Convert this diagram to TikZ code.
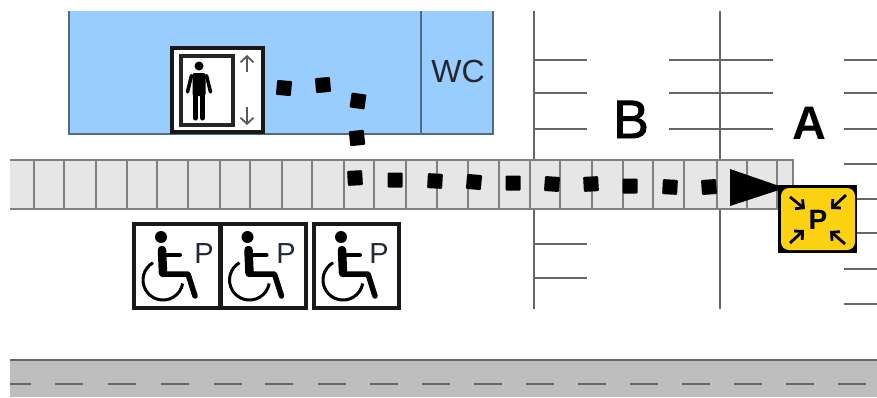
\documentclass[tikz,border=0pt]{standalone}
\usepackage{fontspec}
\setmainfont{Liberation Sans}
\newfontfamily\heavyfont[FakeBold=1.6]{Liberation Sans}
\usetikzlibrary{arrows.meta}
\definecolor{roomblue}{HTML}{99CCFF}
\definecolor{roomedge}{HTML}{4F6B85}
\definecolor{walk}{HTML}{E6E6E6}
\definecolor{walkedge}{HTML}{808080}
\definecolor{lineg}{HTML}{666666}
\definecolor{road}{HTML}{BEBEBE}
\definecolor{signy}{HTML}{FBD112}
\definecolor{signp}{HTML}{1F2A3A}
\tikzset{
  roomline/.style={draw=roomedge,line width=2pt},
  walkline/.style={draw=walkedge,line width=2pt},
  bayline/.style={draw=lineg,line width=2pt},
  frameline/.style={draw=black!90,fill=white,line width=4pt},
  footprint/.style={fill=black,draw=none,inner sep=0pt,minimum size=15pt,rounded corners=1pt},
  word/.style={inner sep=0pt,anchor=base,align=center},
  liftarrow/.style={draw=black!65,line width=1.8pt,-{Straight Barb[length=6pt,width=13pt,line width=1.8pt]}},
  signarrow/.style={draw=black,line width=2.8pt,-{Straight Barb[length=6pt,width=12pt,line width=2.8pt]}},
}
\newcommand{\wheelicon}[3]{%
  \begin{scope}[shift={(#1,224)}]
    \draw[frameline] (0,0) rectangle (#2,84);
    \fill (27,13) circle[radius=6pt];
    \draw[line width=8.5pt,line cap=round] (28,26) -- (29,49);
    \draw[line width=4pt,line cap=round] (30,31) -- (46,31);
    \draw[line width=5.5pt,line cap=round,line join=round] (30,50) -- (54,50) -- (61,72);
    \draw[line width=3pt] (19,38.7) arc[start angle=120,end angle=350,radius=20pt];
    \node[word] at (#3,39) {\fontsize{29}{29}\selectfont\color{signp}P};
  \end{scope}}
\begin{document}
\begin{tikzpicture}[x=1pt,y=-1pt]
\useasboundingbox (0,0) rectangle (877,397);
% road
\fill[road] (10,360) rectangle (877,397);
\draw[lineg,line width=2.4pt] (10,360) -- (877,360);
\draw[lineg,line width=2pt] (10,384) -- (31,384);
\foreach \x in {55,108,161,214,265,318,370,422,474,526,578,630,682,734,786,838}
  \draw[lineg,line width=2pt] (\x,384) -- ({\x+28},384);
% room
\fill[roomblue] (69,11) rectangle (493,134);
\draw[roomline] (69,11) -- (69,134) -- (493,134) -- (493,11);
\draw[roomline] (421,11) -- (421,134);
\node[word] (wc) at (458,82) {\fontsize{32}{32}\selectfont\color{black!85}WC};
% parking bays
\foreach \x in {534,720} {
  \draw[bayline] (\x,11) -- (\x,159);
  \draw[bayline] (\x,208) -- (\x,309);
}
\foreach \y in {60,93,129} {
  \draw[bayline] (534,\y) -- (587,\y);
  \draw[bayline] (669,\y) -- (773,\y);
}
\foreach \y in {244,278} \draw[bayline] (534,\y) -- (587,\y);
\foreach \y in {60,93,129,164,199,233,269,304} \draw[bayline] (844,\y) -- (877,\y);
% walkway
\fill[walk] (10,159.5) rectangle (793,208.5);
\draw[walkline] (10,159.5) -- (793,159.5) -- (793,208.5) -- (10,208.5);
\foreach \x in {34,64,96,127,157,188,220,250,282,312,344,374,406,437,468,499,530,560,592,623,653,684,717,747,777}
  \draw[walkline] (\x,159.5) -- (\x,208.5);
% labels
\node[word] (lb) at (631,138) {\fontsize{54}{54}\heavyfont B};
\node[word] (la) at (809,139) {\fontsize{47}{47}\selectfont\bfseries A};
% elevator
\draw[frameline] (172,47.5) rectangle (263,132);
\draw[draw=black!85,line width=3.5pt] (181,56) rectangle (233,125);
\fill (199,66) circle[radius=4.5pt];
\fill[rounded corners=2pt] (192.5,73) rectangle (205.5,96);
\draw[line width=3.5pt,line cap=round] (191.5,75.5) -- (187.5,92);
\draw[line width=3.5pt,line cap=round] (206.5,75.5) -- (210.5,92);
\draw[line width=5pt,line cap=round] (195.3,94) -- (195.3,118);
\draw[line width=5pt,line cap=round] (202.7,94) -- (202.7,118);
\draw[liftarrow] (247,72) -- (247,55);
\draw[liftarrow] (247,107) -- (247,125);
% wheelchair signs
\wheelicon{134}{86}{70}
\wheelicon{220.5}{85}{65.5}
\wheelicon{314}{85}{65}
% route
\foreach \n/\x/\y/\r in {a/284/88/-5,b/323/85/5,c/358/101/-8,d/357/138/6,e/355/178/3,f/395/180/0,g/435/181/-3,h/474/182/-5,i/513/183/0,j/552/184/-4,k/591/184/3,l/630/186/0,m/670/187/-3,n/709/187/4}
  \node[footprint,rotate=\r] (s\n) at (\x,\y) {};
\fill (730,169) -- (785,188) -- (730,206) -- cycle;
% parking sign
\fill[black] (778,185) rectangle (857,253);
\fill[signy,rounded corners=8pt] (781,188) rectangle (855,250);
\node[word] (pk) at (818,229) {\fontsize{28}{28}\selectfont\bfseries P};
\draw[signarrow] (790,197) -- (805,209);
\draw[signarrow] (846,195) -- (831,209);
\draw[signarrow] (790,243) -- (804,230);
\draw[signarrow] (845,244) -- (830,231);
\end{tikzpicture}
\end{document}
